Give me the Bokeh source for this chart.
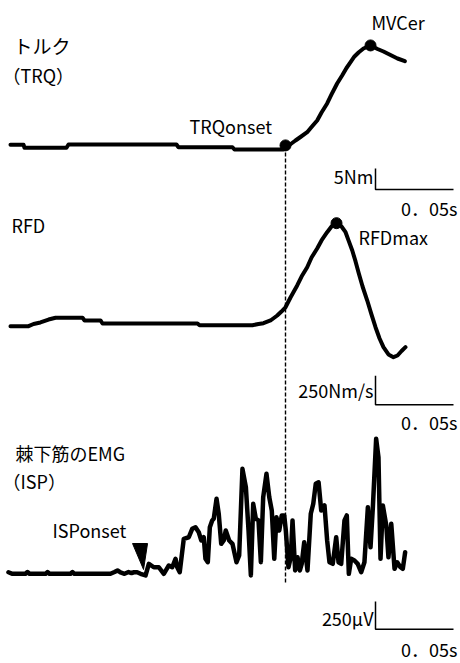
from bokeh.plotting import figure
from bokeh.models import Range1d, Label
from bokeh.embed import file_html
from bokeh.resources import INLINE

# ---------------- data (time in ms from torque onset) ----------------
trq_time_ms = [-176.3, -167.9, -167.3, -140.4, -139.1, -69.9, -68.6, -34.0, -32.7, -1.3,
               1.3, 3.8, 6.4, 9.6, 13.9, 16.7, 20.3, 23.1, 26.7, 29.5, 33.1, 36.3, 39.1,
               41.7, 44.2, 47.0, 50.0, 54.5, 59.0, 62.8, 67.3, 71.8, 76.5]
trq_nm = [0.64, 0.64, -0.07, -0.07, 0.71, 0.71, 0.07, 0.07, -0.48, -0.48,
          0.24, 0.95, 1.67, 2.5, 3.64, 4.88, 6.43, 8.33, 10.48, 12.62, 15.24, 17.14, 18.93,
          20.31, 21.67, 22.69, 23.57, 24.29, 23.45, 22.86, 22.02, 21.19, 20.55]

rfd_time_ms = [-176.3, -164.7, -161.5, -157.1, -151.9, -147.4, -130.1, -128.8, -118.6, -117.3,
               -56.4, -55.1, -21.2, -17.3, -14.1, -9.6, -5.3, -2.6, 0.0, 3.2, 7.5, 10.3, 13.9,
               16.7, 20.3, 23.1, 26.7, 29.5, 32.7, 35.9, 38.5, 40.4, 42.8, 44.9, 47.0, 49.4,
               52.4, 55.1, 57.7, 60.3, 62.8, 66.0, 69.2, 71.8, 74.4, 76.9]
rfd_nms = [-23, -23, -4, 9, 34, 49, 49, 26, 26, 0,
           0, -15, -15, -4, 3, 26, 69, 103, 140, 224, 328, 405, 485,
           569, 647, 716, 787, 836, 865, 836, 787, 716, 629, 535, 431, 319,
           198, 78, -32, -129, -204, -267, -290, -276, -237, -204]

emg_time_ms = [-177.6, -175.0, -166.7, -165.4, -164.1, -153.8, -152.6, -151.3, -137.8, -136.5,
               -135.3, -112.2, -109.6, -107.7, -105.8, -103.2, -100.6, -98.7, -97.2, -95.1,
               -92.9, -89.7, -87.6, -84.4, -81.2, -78.0, -74.8, -72.6, -70.5, -69.4,
               -67.8, -65.2, -62.0, -59.8, -57.7, -55.6, -54.0, -52.4, -51.3, -49.8,
               -48.5, -47.0, -46.0, -44.2, -42.8, -41.2, -39.6, -38.3, -36.1, -34.0,
               -31.4, -29.7, -27.6, -25.4, -23.7, -22.2, -20.7, -19.0, -17.3, -15.8,
               -14.3, -12.2, -10.4, -8.8, -7.2, -5.8, -4.0, -2.4, -0.8, 0.2,
               1.9, 3.4, 4.5, 6.2, 7.7, 9.2, 10.4, 12.0, 14.1, 16.2,
               17.8, 19.4, 21.2, 22.9, 25.0, 26.7, 28.2, 30.3, 32.5, 34.0,
               35.7, 37.8, 39.3, 40.6, 42.1, 44.2, 46.3, 48.5, 50.6, 52.8,
               54.5, 56.0, 58.1, 59.6, 60.9, 62.4, 64.6, 66.0, 67.8, 69.9,
               71.6, 73.7, 75.2, 76.7]
emg_uv = [14, 0, 0, 16, 0, 0, 16, 0, 0, 16,
          0, 0, 16, 30, 12, 0, 16, 7, 14, 14,
          0, -15, 90, 59, 59, 0, 75, 59, 135, 59,
          14, 315, 329, 405, 419, 374, 300, 329, 135, 104,
          419, 480, 495, 675, 540, 270, 300, 390, 300, 270,
          104, 165, 945, 779, 390, -15, 630, 495, 480, 104,
          689, 900, 689, 570, 135, 509, 390, 525, 525, 390,
          59, 149, 480, 30, 149, 30, 90, 284, 30, 540,
          630, 810, 824, 570, 615, 300, 104, 90, 329, 104,
          90, 480, 525, 0, 135, 120, 90, 14, 104, 599,
          239, 599, 1215, 1049, 135, 615, 435, 149, 450, 45,
          104, 59, 45, 194]

trq_onset_ms, trq_onset_nm = 0.0, 0.5
mvc_ms, mvc_nm = 54.5, 24.3
rfdmax_ms, rfdmax_nms = 32.7, 865
isp_onset_ms = -91.0

scale_ms = 50
scale_nm = 5
scale_nms = 250
scale_uv = 250

# ---------------- layout (screen pixels of the page) ----------------
W, H = 460, 663
PAGE = 0
ONSET_PX = 285
PX_PER_MS = 1.56


def ms_at(px):
    return (px - ONSET_PX) / PX_PER_MS


def unit_range(zero_px, px_per_unit):
    return Range1d(start=(zero_px - (PAGE + H)) / px_per_unit,
                   end=(zero_px - PAGE) / px_per_unit)


p = figure(width=W, height=H, x_range=Range1d(ms_at(PAGE), ms_at(PAGE + W)),
           y_range=Range1d(PAGE + H, PAGE), x_axis_type=None, y_axis_type=None,
           output_backend="svg", toolbar_location=None, min_border=0)
p.grid.visible = False
p.outline_line_color = None
p.background_fill_color = "white"
p.border_fill_color = "white"

p.extra_y_ranges = {
    "trq": unit_range(147, 4.2),
    "rfd": unit_range(323, 0.116),
    "emg": unit_range(573.3, 1 / 9.0),
}

INK = "black"
# dashed onset line
p.line([trq_onset_ms, trq_onset_ms], [152, 583], line_color=INK, line_width=1.4,
       line_dash="4 2")

# traces
p.line(trq_time_ms, trq_nm, y_range_name="trq", line_color=INK, line_width=4,
       line_join="round", line_cap="round")
p.line(rfd_time_ms, rfd_nms, y_range_name="rfd", line_color=INK, line_width=4,
       line_join="round", line_cap="round")
p.line(emg_time_ms, emg_uv, y_range_name="emg", line_color=INK, line_width=4.5,
       line_join="round", line_cap="round")

# key points
p.scatter([trq_onset_ms, mvc_ms], [trq_onset_nm, mvc_nm], y_range_name="trq",
          size=11, color=INK)
p.scatter([rfdmax_ms], [rfdmax_nms], y_range_name="rfd", size=11, color=INK)

# ISP onset wedge
tip = isp_onset_ms
p.patch([tip - 11 / PX_PER_MS, tip + 4 / PX_PER_MS, tip], [543, 543, 569],
        color=INK)

# scale bars
sb_x = ms_at(375)
p.line([sb_x, sb_x, sb_x + scale_ms], [-5, -10, -10], y_range_name="trq",
       line_color=INK, line_width=1.5)
p.line([sb_x, sb_x, sb_x + scale_ms], [-450, -700, -700], y_range_name="rfd",
       line_color=INK, line_width=1.5)
p.line([sb_x, sb_x, sb_x + scale_ms], [-250, -500, -500], y_range_name="emg",
       line_color=INK, line_width=1.5)

FONT = "Noto Sans CJK JP"
FS = "18px"


def lab(px, cy, text, align="left", fs=FS):
    p.add_layout(Label(x=ms_at(px), y=cy, text=text, text_font=FONT,
                       text_font_size=fs, text_baseline="middle",
                       text_align=align, text_color=INK))


lab(13, 45, "トルク", fs="19px")
lab(2, 74, "（TRQ）")
lab(189, 125, "TRQonset")
lab(371, 21, "MVCer")
lab(373, 175, "5Nm", "right")
lab(457, 207, "0．05s", "right")
lab(11, 224, "RFD")
lab(358, 236, "RFDmax")
lab(373, 389, "250Nm/s", "right")
lab(457, 421, "0．05s", "right")
lab(15, 452, "棘下筋のEMG")
lab(2, 480, "（ISP）")
lab(52, 529, "ISPonset")
lab(373, 617, "250μV", "right")
lab(457, 648, "0．05s", "right")

open("out.html", "w").write(file_html(p, INLINE))
